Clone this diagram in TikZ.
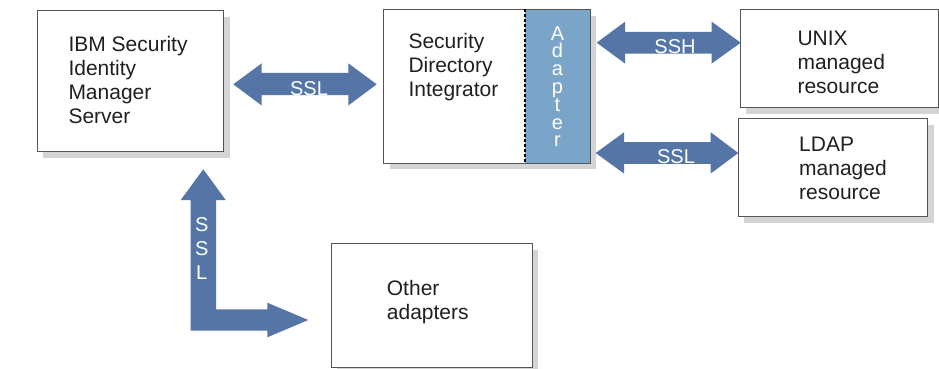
\documentclass[tikz,border=0pt]{standalone}
\usepackage{fontspec}
\setmainfont{Liberation Sans}
\usetikzlibrary{shadows}
\definecolor{arrowblue}{RGB}{84,117,165}
\definecolor{adapterblue}{RGB}{122,164,200}
\definecolor{shadowgray}{RGB}{212,212,212}
\definecolor{bordergray}{RGB}{85,85,85}
\definecolor{txt}{RGB}{35,31,32}
\tikzset{
  box/.style={draw=bordergray, line width=1pt, fill=white, inner sep=0pt, anchor=north west,
    drop shadow={shadow xshift=6pt, shadow yshift=-6pt, fill=shadowgray, opacity=1}},
  boxtext/.style={inner sep=0pt, anchor=base west, text=txt, font=\fontsize{21}{24}\selectfont},
  arrowlabel/.style={inner sep=0pt, anchor=base, text=white, font=\fontsize{20}{24}\selectfont},
  blockarrow/.style={fill=arrowblue, draw=none},
}
\newcommand{\lines}[1]{\parbox[t]{6cm}{\raggedright #1}}
\begin{document}
\begin{tikzpicture}[x=1pt, y=-1pt]
\useasboundingbox (0,0) rectangle (939,368);

% boxes
\node[box, minimum width=186.6pt, minimum height=141pt] (ibm) at (36.7,10) {};
\node[box, minimum width=206pt, minimum height=153.4pt] (sdi) at (383.3,9.3) {};
\node[box, minimum width=198.6pt, minimum height=98pt] (unix) at (739.7,9.3) {};
\node[box, minimum width=189.6pt, minimum height=97.7pt] (ldap) at (737.7,118.3) {};
\node[box, minimum width=201pt, minimum height=123.4pt] (other) at (330.7,243.3) {};

% adapter strip
\fill[adapterblue] (525,9.3) rectangle (sdi.south east);
\draw[bordergray, line width=1pt] (sdi.north west) rectangle (sdi.south east);
\draw[black, line width=1.6pt, dash pattern=on 3pt off 2pt] (525,9.3) -- (525,162.7);

% box texts
\node[boxtext] (ibmt) at (68.3,51.7) {\lines{IBM Security\\Identity\\Manager\\Server}};
\node[boxtext] (sdit) at (408.3,48.3) {\lines{Security\\Directory\\Integrator}};
\node[boxtext] (unixt) at (797.3,45) {\lines{UNIX\\managed\\resource}};
\node[boxtext] (ldapt) at (799,151.7) {\lines{LDAP\\managed\\resource}};
\node[boxtext] (othert) at (386.7,295) {\lines{Other\\adapters}};
\node[inner sep=0pt, anchor=base, text=white, font=\fontsize{20}{17.8}\selectfont] (adaptert) at (557.5,40)
  {\parbox[t]{1cm}{\centering A\\d\\a\\p\\t\\e\\r}};

% block arrows
\fill[blockarrow] (233.3,84.3) -- (261.7,63.3) -- (261.7,72.8) -- (348.3,72.8) -- (348.3,63.3)
  -- (376.7,84.3) -- (348.3,105.5) -- (348.3,95.2) -- (261.7,95.2) -- (261.7,105.5) -- cycle;
\fill[blockarrow] (596.7,42.7) -- (625,21.7) -- (625,31.8) -- (711.7,31.8) -- (711.7,21.7)
  -- (740.7,42.7) -- (711.7,63.5) -- (711.7,53.6) -- (625,53.6) -- (625,63.5) -- cycle;
\fill[blockarrow] (595.7,153) -- (624,132.3) -- (624,142) -- (710.7,142) -- (710.7,132.3)
  -- (738.3,153) -- (710.7,173.5) -- (710.7,163.8) -- (624,163.8) -- (624,173.5) -- cycle;
\fill[blockarrow] (203.3,169.3) -- (225.7,200) -- (216,200) -- (216,309.3) -- (267.3,309.3)
  -- (267.3,302.7) -- (308.3,320) -- (267.3,337.3) -- (267.3,330.7) -- (190.7,330.7)
  -- (190.7,200) -- (180.7,200) -- cycle;

% arrow labels
\node[arrowlabel] (ssl1) at (309,95) {SSL};
\node[arrowlabel] (ssh) at (675,53.3) {SSH};
\node[arrowlabel] (ssl2) at (676,163.3) {SSL};
\node[inner sep=0pt, anchor=base, text=white, font=\fontsize{20}{24}\selectfont] (ssl3) at (201.7,231.7)
  {\parbox[t]{1cm}{\centering S\\S\\L}};
\end{tikzpicture}
\end{document}
